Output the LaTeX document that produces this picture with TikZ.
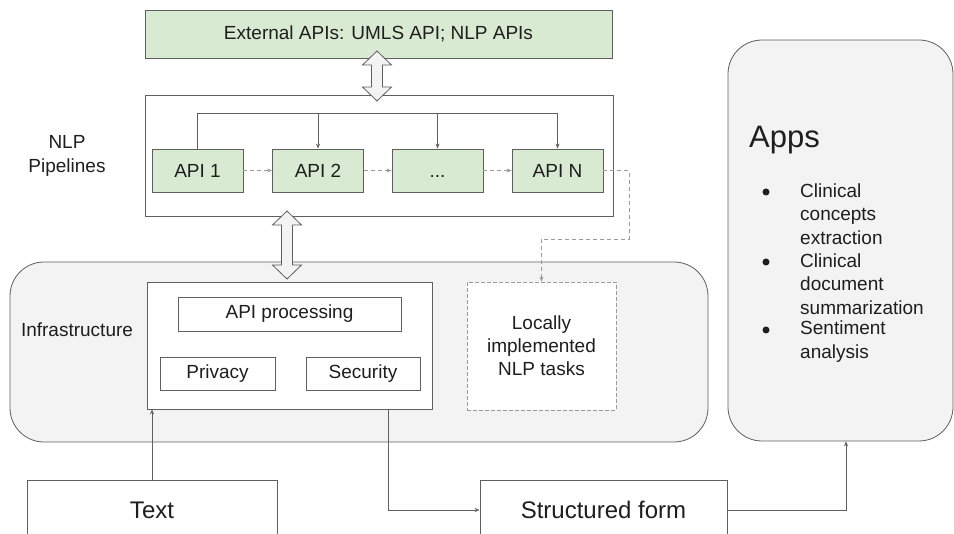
\documentclass[tikz,border=0pt]{standalone}
\usepackage{fontspec}
\setmainfont{Liberation Sans}
\usetikzlibrary{arrows.meta,calc}
\definecolor{apigreen}{HTML}{D9EAD3}
\definecolor{linegray}{HTML}{5F5F5F}
\definecolor{dashgray}{HTML}{9A9A9A}
\definecolor{panel}{HTML}{F3F3F3}
\definecolor{ink}{HTML}{1E1E1E}
% two-headed block arrow: x, top tip y, bottom tip y
\newcommand\twoway[3]{%
  \draw[linegray, fill=panel, line width=0.8pt, line join=miter]
    (#1,#2) -- ++(14.5,14) -- ++(-9,0) -- (#1+5.5,#3-14) -- ++(9,0) -- (#1,#3)
    -- ++(-14.5,-14) -- ++(9,0) -- (#1-5.5,#2+14) -- ++(-9,0) -- cycle;}
\begin{document}
\begin{tikzpicture}[x=1pt,y=-1pt,
  boxbase/.style={draw=linegray, line width=0.8pt, inner sep=0pt, align=center, text=ink,
    font=\fontsize{19}{23}\selectfont},
  apibox/.style={boxbase, fill=apigreen, minimum width=91pt, minimum height=43pt,
    text height=13.5pt, text depth=0pt},
  plainbox/.style={boxbase, fill=white},
  panelbox/.style={draw=linegray, line width=0.8pt, fill=panel, rounded corners=34pt, inner sep=0pt},
  plaintext/.style={inner sep=0pt, align=center, text=ink, font=\fontsize{19}{23.5}\selectfont},
  dot/.style={circle, fill=ink, inner sep=0pt, minimum size=7pt},
  conn/.style={draw=linegray, line width=0.7pt, -{Stealth[length=5pt,width=4pt]}},
  dconn/.style={conn, draw=dashgray, dash pattern=on 4pt off 3pt}]
\useasboundingbox (0,0) rectangle (954,534);
\clip (0,0) rectangle (954,534);

% background panels
\node[panelbox, minimum width=698pt, minimum height=180pt] (infra) at (359,352) {};
\node[panelbox, minimum width=225pt, minimum height=401pt] (apps) at (840.5,240.5) {};

% external services and the pipeline frame
\node[boxbase, fill=apigreen, minimum width=467pt, minimum height=48pt] (ext) at (378.5,34)
  {External APIs: UMLS API; NLP APIs};
\node[plainbox, minimum width=468pt, minimum height=121pt] (pipe) at (379,155.5) {};
\node[plaintext] (pipelab) at (67,156) {NLP\\Pipelines};

% pipeline stages
\node[apibox] (a1) at (197.5,170.5) {API 1};
\node[apibox] (a2) at (318,170.5) {API 2};
\node[apibox] (a3) at (437.5,170.5) {...};
\node[apibox] (aN) at (557.5,170.5) {API N};

\coordinate (bus) at (197.5,113);
\draw[conn] (a1.north) -- (bus) -| (aN.north);
\draw[conn] (a2.north |- bus) -- (a2.north);
\draw[conn] (a3.north |- bus) -- (a3.north);
\draw[dconn] (a1) -- (a2);
\draw[dconn] (a2) -- (a3);
\draw[dconn] (a3) -- (aN);

% infrastructure layer
\node[plaintext] (infralab) at (77,330) {Infrastructure};
\node[plainbox, minimum width=285pt, minimum height=127pt] (core) at (289.5,345.5) {};
\node[plainbox, minimum width=223pt, minimum height=34pt] (proc) at (289.5,314) {API processing};
\node[plainbox, minimum width=115pt, minimum height=33pt] (priv) at (217.5,373.5) {Privacy};
\node[plainbox, minimum width=114pt, minimum height=33pt] (sec) at (363,373.5) {Security};
\node[plainbox, draw=dashgray, dash pattern=on 4pt off 2pt, minimum width=149pt, minimum height=128pt]
  (local) at (541.5,346) {Locally\\implemented\\NLP tasks};

\coordinate (c1) at (629,170.5);
\coordinate (c2) at (629,239);
\draw[dconn] (aN.east) -- (c1) -- (c2) -| (local.north);

% applications
\node[inner sep=0pt, anchor=west, text=ink, font=\fontsize{31}{36}\selectfont] (appt) at (749,140) {Apps};
\node[dot] (b1) at (766,192) {};
\node[dot] (b2) at (766,262) {};
\node[dot] (b3) at (766,330) {};
\node[plaintext, align=left, anchor=west] (i1) at (800,214) {Clinical\\concepts\\extraction};
\node[plaintext, align=left, anchor=west] (i2) at (800,284) {Clinical\\document\\summarization};
\node[plaintext, align=left, anchor=west] (i3) at (800,341.5) {Sentiment\\analysis};

% input and output documents
\node[plainbox, minimum width=250pt, minimum height=60pt, font=\fontsize{24}{28}\selectfont] (txt) at (152,510) {Text};
\node[plainbox, minimum width=247pt, minimum height=60pt, font=\fontsize{24}{28}\selectfont] (sf) at (603.5,510) {Structured form};

\coordinate (tap) at ($(core.south east)+(-44,0)$);
\draw[conn] (txt.north) -- (txt.north |- core.south);
\draw[conn] (tap) |- (sf.west);
\draw[conn] (sf.east) -| ($(apps.south)+(5.5,0)$);

% two-way exchanges
\twoway{377}{51}{101}
\twoway{287}{211}{279}
\end{tikzpicture}
\end{document}
